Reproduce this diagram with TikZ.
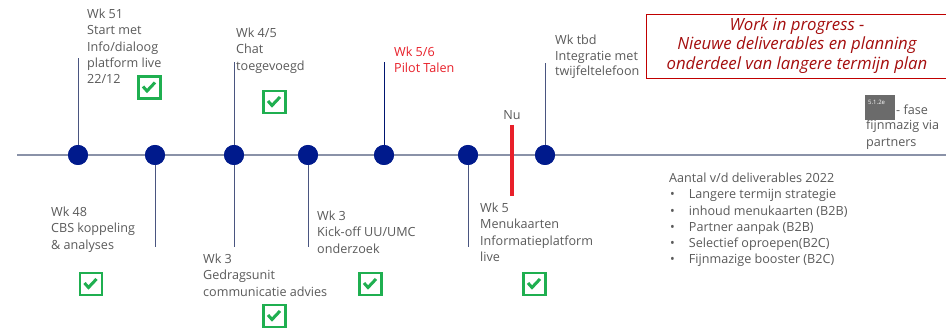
\documentclass[tikz,border=0pt]{standalone}
\usepackage{fontspec}
\setmainfont{Open Sans}
\definecolor{txtgray}{HTML}{5A5A5A}
\definecolor{navy}{HTML}{001A8C}
\definecolor{linegray}{HTML}{8A92A8}
\definecolor{stemcol}{HTML}{4A5580}
\definecolor{chkgreen}{HTML}{1FAF50}
\definecolor{nured}{HTML}{E8202A}
\definecolor{boxred}{HTML}{C00000}
\definecolor{boxtxt}{HTML}{A50F0F}
\begin{document}
\begin{tikzpicture}[x=1pt,y=-1pt,
  lbl/.style={font=\fontsize{12.6}{16.2}\selectfont, text=txtgray, align=left, anchor=north west, inner sep=0pt},
  dot/.style={circle, fill=navy, minimum size=20pt, inner sep=0pt},
  stem/.style={draw=stemcol, line width=1pt},
  chk/.style={draw=chkgreen, line width=2.6pt, minimum size=22pt, inner sep=0pt, fill=white,
    path picture={\draw[chkgreen, line width=3pt]
      ([xshift=-6.5pt,yshift=1pt]path picture bounding box.center) -- ++(4pt,-4.5pt) -- ++(8pt,8.5pt);}}
]
\useasboundingbox[fill=white] (0,0) rectangle (946,328);

% timeline
\coordinate (tlA) at (17,155);
\coordinate (tlB) at (946,155);
\draw[linegray, line width=1.4pt] (tlA) -- (tlB);

% stem ends
\coordinate (u1) at (78,58);
\coordinate (u3) at (234,62);
\coordinate (u5) at (384,62);
\coordinate (u7) at (545,63);
\coordinate (b2) at (155,247);
\coordinate (b3) at (234,247);
\coordinate (b4) at (308,247);
\coordinate (b6) at (468,247);

\node[dot] (d1) at (78,155) {};
\node[dot] (d2) at (155,155) {};
\node[dot] (d3) at (234,155) {};
\node[dot] (d4) at (308,155) {};
\node[dot] (d5) at (384,155) {};
\node[dot] (d6) at (468,155) {};
\node[dot] (d7) at (545,155) {};

\draw[stem] (d1.center) -- (u1);
\draw[stem] (d3.center) -- (u3);
\draw[stem, draw=navy!80!black] (d5.center) -- (u5);
\draw[stem] (d7.center) -- (u7);
\draw[stem] (d2.center) -- (b2);
\draw[stem] (d3.center) -- (b3);
\draw[stem] (d4.center) -- (b4);
\draw[stem] (d6.center) -- (b6);
% redraw dots over stems
\foreach \n in {d1,d2,d3,d4,d5,d6,d7}{\fill[navy] (\n.center) circle (10pt);}

% Nu marker
\coordinate (nuA) at (512,125);
\coordinate (nuB) at (512,196);
\draw[nured, line width=4pt] (nuA) -- (nuB);
\node[lbl, anchor=south] (nu) at (512,120) {Nu};

% labels above
\node[lbl] (t51) at (87,9) {Wk 51\\Start met\\Info/dialoog\\platform live\\22/12};
\node[lbl] (t45) at (236,28) {Wk 4/5\\Chat\\toegevoegd};
\node[lbl, text=nured] (t56) at (394,47) {Wk 5/6\\Pilot Talen};
\node[lbl, font=\fontsize{12.6}{15.6}\selectfont] (ttbd) at (555,35) {Wk tbd\\Integratie met\\twijfeltelefoon};

% labels below
\node[lbl] (t48) at (51,207) {Wk 48\\CBS koppeling\\\& analyses};
\node[lbl] (t3a) at (203,254) {Wk 3\\Gedragsunit\\communicatie advies};
\node[lbl] (t3b) at (317,211) {Wk 3\\Kick-off UU/UMC\\onderzoek};
\node[lbl] (t5) at (480,203) {Wk 5\\Menukaarten\\Informatieplatform\\live};

% checkboxes
\node[chk] (c1) at (149.5,87.5) {};
\node[chk] (c2) at (274.5,102) {};
\node[chk] (c3) at (91,284) {};
\node[chk] (c4) at (274.5,316) {};
\node[chk] (c5) at (370.5,284) {};
\node[chk] (c6) at (534.5,284) {};

% work in progress box
\node[draw=boxred, line width=1pt, minimum width=304pt, minimum height=64pt, anchor=north west, inner sep=0pt] (wip) at (646,14) {};
\node[font=\itshape\fontsize{16.8}{19.5}\selectfont, text=boxtxt, align=center, inner sep=0pt] (wiptxt) at (797,45.5)
  {Work in progress -\\Nieuwe deliverables en planning\\onderdeel van langere termijn plan};

% 5.1.2e tag
\node[lbl] (fijn) at (866,120) {fijnmazig via\\partners};
\node[fill=black!58, minimum width=30pt, minimum height=25pt, anchor=north west, inner sep=0pt] (tag) at (865,95) {};
\node[font=\fontsize{6}{7}\selectfont, text=white, anchor=north west, inner sep=0pt] (tagtxt) at (868,100) {5.1.2e};
\node[lbl, anchor=west] (fase) at (896,110) {- fase};

% deliverables list
\node[lbl] (list) at (669,173) {Aantal v/d deliverables 2022\\
\hspace*{1pt}\textbullet\hspace{14pt}Langere termijn strategie\\
\hspace*{1pt}\textbullet\hspace{14pt}inhoud menukaarten (B2B)\\
\hspace*{1pt}\textbullet\hspace{14pt}Partner aanpak (B2B)\\
\hspace*{1pt}\textbullet\hspace{14pt}Selectief oproepen(B2C)\\
\hspace*{1pt}\textbullet\hspace{14pt}Fijnmazige booster (B2C)};
\end{tikzpicture}
\end{document}
